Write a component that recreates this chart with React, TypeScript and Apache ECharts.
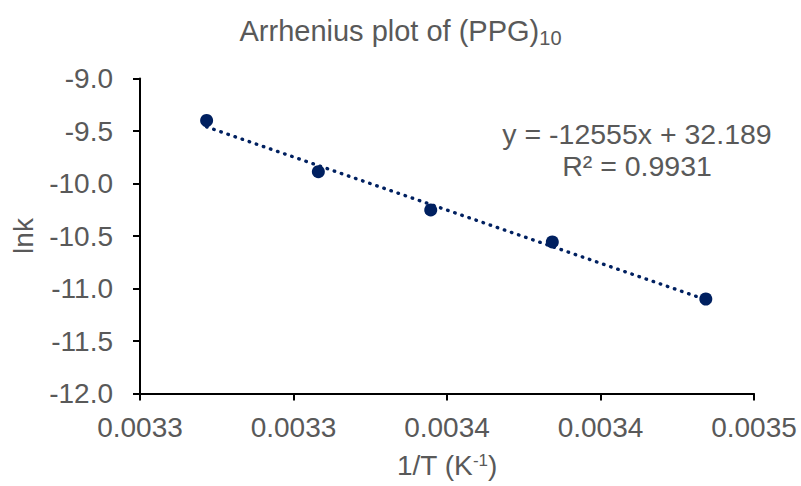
import React, { useEffect, useRef } from 'react';
import * as echarts from 'echarts';

const titleMain = 'Arrhenius plot of (PPG)';
const titleSub = '10';
const xName = '1/T (K';
const xNameSup = '-1';
const yName = 'lnk';

const invT = [0.0032717, 0.0033081, 0.0033447, 0.0033843, 0.0034343];
const lnk = [-9.4, -9.888, -10.252, -10.557, -11.1];

const xMin = 0.00325;
const xMax = 0.00345;
const xInterval = 0.00005;
const xTickLabels = ['0.0033', '0.0033', '0.0034', '0.0034', '0.0035'];

const yMin = -12;
const yMax = -9;
const yInterval = 0.5;

const equationLines = ['y = -12555x + 32.189', 'R² = 0.9931'];

const navy = '#002060';
const grey = '#595959';
const font = '"Liberation Sans", Arial, sans-serif';

function fit(xs: number[], ys: number[]) {
  const n = xs.length;
  const mx = xs.reduce((a, b) => a + b, 0) / n;
  const my = ys.reduce((a, b) => a + b, 0) / n;
  let sxy = 0;
  let sxx = 0;
  for (let i = 0; i < n; i++) {
    sxy += (xs[i] - mx) * (ys[i] - my);
    sxx += (xs[i] - mx) * (xs[i] - mx);
  }
  const slope = sxy / sxx;
  return { slope, intercept: my - slope * mx };
}

export default function App() {
  const ref = useRef<HTMLDivElement>(null);
  useEffect(() => {
    document.body.style.margin = '0';
    if (!ref.current) return;
    const chart = echarts.init(ref.current, null, { renderer: 'svg' });
    const { slope, intercept } = fit(invT, lnk);
    const x0 = invT[0];
    const x1 = invT[invT.length - 1];
    const trend = [
      [x0, slope * x0 + intercept],
      [x1, slope * x1 + intercept],
    ];
    chart.setOption({
      animation: false,
      backgroundColor: '#fff',
      textStyle: { fontFamily: font },
      title: {
        text: `{a|${titleMain}}{b|${titleSub}}`,
        left: 'center',
        top: 9,
        textStyle: {
          fontWeight: 'normal',
          rich: {
            a: { fontSize: 29, color: grey, fontFamily: font, fontWeight: 'normal' },
            b: { fontSize: 20, color: grey, fontFamily: font, fontWeight: 'normal', verticalAlign: 'bottom', padding: [14, 0, 0, 0] },
          },
        },
      },
      grid: { left: 140, right: 47, top: 78.5, bottom: 92.5, containLabel: false },
      xAxis: {
        type: 'value',
        min: xMin,
        max: xMax,
        interval: xInterval,
        name: `{a|${xName}}{b|${xNameSup}}{a|)}`,
        nameLocation: 'middle',
        nameGap: 58,
        nameTextStyle: {
          rich: {
            a: { fontSize: 28, color: grey, fontFamily: font },
            b: { fontSize: 17, color: grey, fontFamily: font, verticalAlign: 'top', padding: [0, 0, 10, 0] },
          },
        },
        axisLine: { lineStyle: { color: '#000', width: 2 } },
        axisTick: { show: true, inside: false, length: 7, lineStyle: { color: '#000', width: 2 } },
        splitLine: { show: false },
        axisLabel: {
          margin: 20,
          fontSize: 28,
          color: grey,
          fontFamily: font,
          formatter: (v: number) => xTickLabels[Math.round((v - xMin) / xInterval)] ?? '',
        },
      },
      yAxis: {
        type: 'value',
        min: yMin,
        max: yMax,
        interval: yInterval,
        name: yName,
        nameLocation: 'middle',
        nameGap: 103,
        nameTextStyle: { fontSize: 28, color: grey, fontFamily: font },
        axisLine: { show: true, lineStyle: { color: '#000', width: 2 } },
        axisTick: { show: true, inside: false, length: 7, lineStyle: { color: '#000', width: 2 } },
        splitLine: { show: false },
        axisLabel: {
          margin: 27,
          fontSize: 28,
          color: grey,
          fontFamily: font,
          formatter: (v: number) => v.toFixed(1),
        },
      },
      series: [
        {
          type: 'line',
          data: trend,
          symbol: 'none',
          lineStyle: { color: navy, width: 3.4, type: [0.5, 7], cap: 'round', opacity: 1 },
          z: 2,
        },
        {
          type: 'scatter',
          data: invT.map((x, i) => [x, lnk[i]]),
          symbol: 'circle',
          symbolSize: 13,
          itemStyle: { color: navy, opacity: 1 },
          z: 3,
        },
      ],
      graphic: equationLines.map((t, i) => ({
        type: 'text',
        x: 637,
        y: 134 + i * 32,
        style: {
          text: t,
          fontSize: 28.5,
          fill: grey,
          fontFamily: font,
          align: 'center',
          verticalAlign: 'middle',
        },
      })),
    });
    return () => chart.dispose();
  }, []);
  return <div ref={ref} style={{ width: 801, height: 486 }} />;
}
